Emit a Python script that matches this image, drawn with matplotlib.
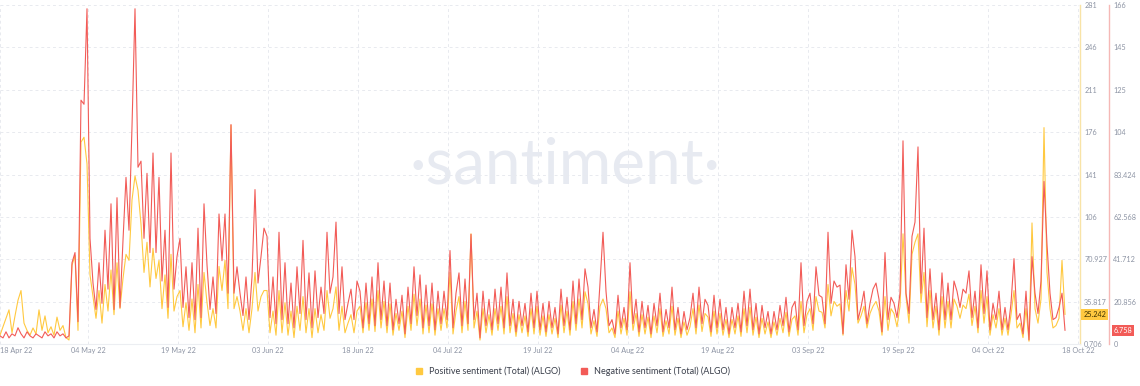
import matplotlib
matplotlib.use("Agg")
import matplotlib.pyplot as plt
import matplotlib.transforms as mtransforms
from matplotlib.lines import Line2D
import numpy as np

plt.rcParams["font.family"] = ["Lato", "DejaVu Sans"]

# date labels on the x axis (evenly spaced on the chart)
date_labels = ["18 Apr 22", "04 May 22", "19 May 22", "03 Jun 22", "18 Jun 22", "04 Jul 22",
               "19 Jul 22", "04 Aug 22", "19 Aug 22", "03 Sep 22", "19 Sep 22", "04 Oct 22", "18 Oct 22"]

pos_tick_labels = ["0.706", "35.817", "70.927", "106", "141", "176", "211", "246", "281"]
neg_tick_labels = ["0", "20.856", "41.712", "62.568", "83.424", "104", "125", "145", "166"]

# Positive sentiment (Total) (ALGO), one value per half day
positive = [
    8, 15, 22, 29, 10, 24, 37, 45, 18, 12, 8, 14, 9, 29, 12, 24, 10, 15, 8, 23, 12, 16, 6, 4,
    66, 74, 12, 168, 172, 150, 58, 40, 22, 45, 18, 50, 28, 62, 25, 68, 30, 55, 75, 70,
    120, 140, 128, 100, 60, 85, 48, 80, 55, 70, 30, 58, 22, 75, 28, 40,
    45, 15, 35, 12, 38, 10, 50, 14, 60, 35, 16, 30, 14, 65, 45, 70, 30, 182,
    30, 40, 28, 12, 30, 10, 30, 60, 28, 40, 45, 45, 10, 28, 8, 45, 10, 35, 8, 28, 6,
    32, 12, 40, 10, 30, 6, 30, 10, 25, 12, 45, 22, 30, 48, 12, 32, 10, 18, 25, 10, 28,
    32, 10, 35, 12, 38, 11, 45, 14, 36, 10, 34, 8, 26, 12, 28, 6, 32, 12, 42, 16,
    38, 9, 33, 10, 34, 8, 30, 12, 30, 14, 60, 9, 28, 40, 10, 36, 12, 92, 14, 28,
    4, 30, 10, 25, 8, 30, 12, 32, 9, 40, 10, 26, 7, 25, 10, 24,
    7, 30, 9, 32, 8, 24, 7, 25, 9, 22, 6, 33, 10, 28, 8, 36, 12, 38, 14, 44,
    34, 9, 20, 7, 32, 38, 30, 10, 14, 6, 28, 9, 22, 8, 44, 12, 26, 7, 25, 9,
    23, 6, 24, 10, 30, 7, 20, 9, 32, 8, 22, 6, 19, 8, 15, 30, 9, 33, 11, 26,
    23, 7, 28, 9, 26, 8, 21, 6, 21, 9, 24, 7, 30, 10, 31, 8, 23, 6, 22, 9,
    19, 6, 19, 8, 22, 10, 27, 7, 21, 24, 8, 36, 10, 25, 30, 12, 40, 28, 27, 14,
    50, 24, 36, 32, 34, 8, 45, 28, 64, 50, 18, 24, 32, 14, 26, 32, 36, 28,
    8, 40, 12, 30, 26, 15, 32, 92, 40, 18, 75, 85, 92, 35, 60, 15, 45, 14, 32, 8,
    40, 14, 36, 14, 38, 32, 22, 33, 30, 42, 16, 32, 10, 45, 18, 40, 8, 25, 14, 30,
    8, 22, 8, 25, 45, 14, 18, 6, 30, 3, 101, 30, 18, 38, 180, 60, 30, 14, 16, 22,
    70, 25.242,
]

# Negative sentiment (Total) (ALGO), one value per half day
negative = [
    4, 3, 6, 3, 5, 4, 8, 5, 3, 6, 4, 3, 5, 4, 3, 6, 4, 5, 3, 6, 4, 5, 3, 4,
    40, 45, 11, 120, 118, 165, 52, 30, 17, 40, 20, 56, 27, 69, 17, 72, 18, 51, 82, 56,
    107, 165, 87, 90, 52, 84, 45, 94, 45, 82, 31, 56, 18, 94, 27, 43,
    52, 18, 38, 13, 40, 12, 57, 13, 69, 39, 17, 33, 15, 64, 41, 64, 25, 108,
    25, 38, 25, 14, 33, 12, 33, 76, 30, 43, 57, 53, 13, 33, 10, 55, 12, 40, 10, 30, 8,
    38, 15, 51, 12, 35, 8, 36, 13, 28, 15, 55, 25, 33, 60, 15, 38, 12, 20, 27, 12, 31,
    26, 8, 30, 10, 33, 9, 40, 12, 31, 9, 30, 7, 22, 10, 24, 5, 28, 10, 38, 14,
    34, 8, 29, 9, 30, 7, 26, 10, 26, 12, 46, 8, 25, 35, 9, 32, 10, 54, 12, 25,
    3, 26, 9, 22, 7, 27, 10, 28, 8, 35, 9, 22, 6, 21, 9, 20,
    6, 25, 8, 26, 7, 20, 6, 21, 8, 18, 5, 27, 9, 23, 7, 31, 10, 32, 12, 37,
    28, 8, 17, 6, 30, 55, 26, 9, 12, 5, 24, 8, 18, 7, 40, 10, 22, 6, 21, 8,
    19, 5, 20, 9, 25, 6, 17, 8, 28, 7, 18, 5, 16, 7, 13, 25, 8, 28, 10, 22,
    19, 6, 24, 8, 22, 7, 18, 5, 18, 8, 20, 6, 26, 9, 27, 7, 20, 5, 19, 8,
    16, 5, 16, 7, 19, 9, 23, 6, 18, 21, 7, 40, 9, 21, 25, 10, 38, 24, 23, 10,
    55, 20, 31, 28, 29, 5, 39, 22, 56, 43, 12, 18, 26, 10, 20, 27, 30, 22,
    6, 45, 12, 23, 20, 13, 25, 100, 25, 15, 53, 60, 97, 25, 57, 13, 37, 12, 25, 7,
    35, 12, 30, 12, 31, 26, 18, 27, 25, 36, 13, 26, 8, 39, 15, 36, 7, 20, 12, 26,
    7, 18, 7, 20, 42, 12, 15, 5, 26, 2, 43, 25, 15, 31, 80, 49, 25, 12, 13, 18,
    25, 6.758,
]

YEL = "#ffc940"
RED = "#f25b57"
GRID = "#e8eaef"
TXT = "#8c93a3"

x = np.arange(len(negative))

fig = plt.figure(figsize=(11.4, 3.86), dpi=100)
ax = fig.add_axes([0, 42 / 386, 1080 / 1140, 339 / 386])
ax2 = ax.twinx()

ax.text(0.523, 0.528, "\u00b7santiment\u00b7", transform=ax.transAxes, fontsize=46,
        color="#e7eaf1", ha="center", va="center", zorder=0)

ax.plot(x, positive, color=YEL, lw=0.8, zorder=2)
ax2.plot(x, negative, color=RED, lw=0.8, zorder=3)

ax.set_xlim(0, 360)
ax.set_ylim(0.706, 0.706 + 8 * 35.11)
ax2.set_ylim(0, 8 * 20.856)

ax.set_yticks(0.706 + np.arange(9) * 35.11, pos_tick_labels)
ax2.set_yticks(np.arange(9) * 20.856, neg_tick_labels)
ax.yaxis.tick_right()
ax.tick_params(axis="y", length=0, pad=3, labelsize=5.2, labelcolor=TXT)
ax2.tick_params(axis="y", length=0, pad=3, labelsize=5.2, labelcolor=TXT)

xt = [0] + [30 * k - 0.67 for k in range(1, 13)]
ax.set_xticks(xt, date_labels)
ax.get_xticklabels()[0].set_ha("left")
ax.tick_params(axis="x", length=0, pad=2, labelsize=5.2, labelcolor=TXT)

ax.grid(True, color=GRID, ls=(0, (3, 3)), lw=0.7)
ax.set_axisbelow(True)

for s in ["left", "top"]:
    ax.spines[s].set_visible(False)
    ax2.spines[s].set_visible(False)
ax2.spines["bottom"].set_visible(False)
ax.spines["bottom"].set_color("#eceef2")
ax.spines["right"].set_color("#f8e3a6")
ax2.spines["right"].set_color("#f5b8b6")
# outward offset is in points: 21 pt is about 29 px
ax2.spines["right"].set_position(("outward", 21))
ax.spines["right"].set_linewidth(1)
ax2.spines["right"].set_linewidth(1)

tr1 = mtransforms.blended_transform_factory(ax.transAxes, ax.transData)
ax.text(1.003, positive[-1], "25.242", transform=tr1, fontsize=5.2, color="#3d3100",
        ha="left", va="center", bbox=dict(boxstyle="square,pad=0.25", fc=YEL, ec="none"))
tr2 = mtransforms.blended_transform_factory(ax2.transAxes, ax2.transData)
ax2.text(1.031, negative[-1], "6.758", transform=tr2, fontsize=5.2, color="white",
         ha="left", va="center", bbox=dict(boxstyle="square,pad=0.25", fc=RED, ec="none"))

handles = [
    Line2D([], [], marker="s", ls="", color=YEL, markersize=4, label="Positive sentiment (Total) (ALGO)"),
    Line2D([], [], marker="s", ls="", color=RED, markersize=4, label="Negative sentiment (Total) (ALGO)"),
]
fig.legend(handles=handles, loc="center", bbox_to_anchor=(0.5, 15 / 386), ncol=2, frameon=False,
           fontsize=6.5, handletextpad=0.2, columnspacing=1.5, labelcolor="#3a3f4b")

fig.savefig("out.png", dpi=100)
